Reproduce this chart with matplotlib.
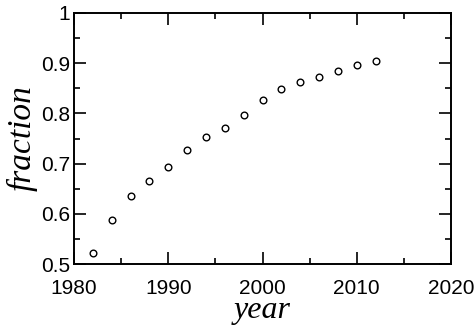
import matplotlib
matplotlib.use("Agg")
import matplotlib.pyplot as plt
from matplotlib.ticker import MultipleLocator

years = [1982, 1984, 1986, 1988, 1990, 1992, 1994, 1996,
         1998, 2000, 2002, 2004, 2006, 2008, 2010, 2012]
fraction = [0.521, 0.588, 0.635, 0.666, 0.694, 0.727, 0.753, 0.771,
            0.797, 0.827, 0.849, 0.863, 0.873, 0.884, 0.896, 0.904]

plt.rcParams['font.family'] = ['Liberation Sans', 'DejaVu Sans']

fig = plt.figure(figsize=(4.75, 3.31), dpi=100)
ax = fig.add_axes([74 / 475, 1 - 264 / 331, 377 / 475, 251 / 331])

ax.plot(years, fraction, 'o', markersize=4.8, markerfacecolor='none',
        markeredgecolor='black', markeredgewidth=1.0)

ax.set_xlim(1980, 2020)
ax.set_ylim(0.5, 1.0)
ax.xaxis.set_major_locator(MultipleLocator(10))
ax.xaxis.set_minor_locator(MultipleLocator(5))
ax.yaxis.set_minor_locator(MultipleLocator(0.05))
ax.set_yticks([0.5, 0.6, 0.7, 0.8, 0.9, 1.0])
ax.set_yticklabels(['0.5', '0.6', '0.7', '0.8', '0.9', '1'])

ax.tick_params(which='both', direction='in', top=True, right=True,
               width=1.2, labelsize=15)
ax.tick_params(which='major', length=8.5)
ax.tick_params(which='minor', length=4.5)
ax.tick_params(axis='x', which='major', pad=11)
ax.tick_params(axis='y', which='major', pad=3)
for s in ax.spines.values():
    s.set_linewidth(1.4)

ax.set_xlabel('year', family=['Liberation Serif'], style='italic',
              fontsize=23, labelpad=-1.5)
ax.set_ylabel('fraction', family=['Liberation Serif'], style='italic',
              fontsize=24, labelpad=2)

fig.savefig('out.png', dpi=100)
